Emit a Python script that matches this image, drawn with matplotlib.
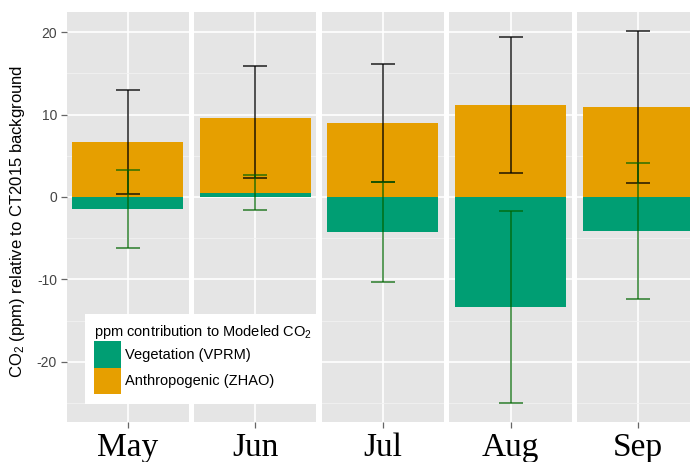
import matplotlib.pyplot as plt
from matplotlib.patches import Patch

months = ['May', 'Jun', 'Jul', 'Aug', 'Sep']
anthro = [6.63, 9.1, 8.95, 11.2, 10.95]
anthro_err = [6.3, 6.75, 7.15, 8.25, 9.2]
veg = [-1.45, 0.5, -4.3, -13.38, -4.1]
veg_err = [4.75, 2.12, 6.08, 11.64, 8.26]

veg_color = '#009E73'
anthro_color = '#E69F00'

plt.rcParams['font.family'] = ['Liberation Sans', 'DejaVu Sans']
plt.rcParams['mathtext.fontset'] = 'custom'
plt.rcParams['mathtext.rm'] = 'Liberation Sans'
plt.rcParams['mathtext.default'] = 'regular'
plt.rcParams['axes.unicode_minus'] = False

W, H = 690, 462
fig = plt.figure(figsize=(W / 100, H / 100), dpi=100)

# facet layout in pixels
left0, step, pw = 66.7, 127.6, 122.0
top, bottom = 12.3, 421.7

lo = min(v - e for v, e in zip(veg, veg_err))
hi = max(a + e for a, e in zip(anthro, anthro_err))
pad = (hi - lo) * 0.05

for i, m in enumerate(months):
    ax = fig.add_axes([(left0 + i * step) / W, (H - bottom) / H,
                       pw / W, (bottom - top) / H])
    ax.set_facecolor('#E5E5E5')
    for s in ax.spines.values():
        s.set_visible(False)

    base = max(veg[i], 0)
    ax.bar(0, veg[i], width=0.9, color=veg_color, zorder=2)
    ax.bar(0, anthro[i], bottom=base, width=0.9, color=anthro_color, zorder=2)
    ax.errorbar(0, anthro[i], yerr=anthro_err[i], color='black', alpha=0.8,
                capsize=8.6, elinewidth=1.2, capthick=1.2, zorder=3)
    ax.errorbar(0, veg[i], yerr=veg_err[i], color='#006400', alpha=0.75,
                capsize=8.6, elinewidth=1.2, capthick=1.2, zorder=3)

    ax.set_xlim(-0.495, 0.495)
    ax.set_ylim(lo - pad, hi + pad)
    ax.set_yticks([-20, -10, 0, 10, 20])
    ax.set_yticks([-25, -15, -5, 5, 15], minor=True)
    ax.set_axisbelow(True)
    ax.grid(which='major', color='white', lw=1.2)
    ax.grid(which='minor', axis='y', color='#F2F2F2', lw=0.6)

    ax.set_xticks([0])
    ax.set_xticklabels([m], fontfamily='Liberation Serif', fontsize=24)
    ax.tick_params(axis='x', length=4, width=0.9, color='#666666', pad=4)
    ax.tick_params(axis='y', which='minor', length=0)
    if i == 0:
        ax.tick_params(axis='y', which='major', length=4, width=0.9,
                       color='#666666', labelcolor='#444444', labelsize=10, pad=3)
    else:
        ax.tick_params(axis='y', which='major', length=0, labelleft=False)

fig.text(18 / W, 1 - 221 / H, 'CO$_2$ (ppm) relative to CT2015 background',
         rotation=90, ha='center', va='center', fontsize=12)

handles = [Patch(facecolor=veg_color, label='Vegetation (VPRM)'),
           Patch(facecolor=anthro_color, label='Anthropogenic (ZHAO)')]
leg = fig.legend(handles=handles, title='ppm contribution to Modeled CO$_2$',
                 loc='upper left', bbox_to_anchor=(85 / W, 1 - 314 / H),
                 fontsize=10.5, title_fontsize=10.5, alignment='left',
                 frameon=True, fancybox=False, framealpha=1,
                 facecolor='white', edgecolor='none', borderpad=0.65,
                 handlelength=1.8, handleheight=2.4, labelspacing=0,
                 handletextpad=0.3, borderaxespad=0)

fig.savefig('out.png', dpi=100)
